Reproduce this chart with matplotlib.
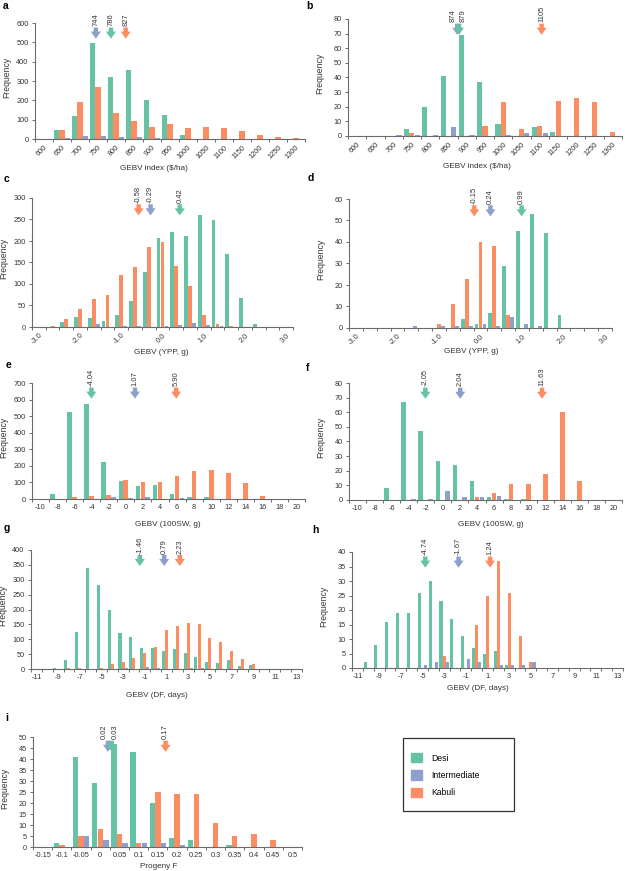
import numpy as np
import matplotlib
matplotlib.use('Agg')
import matplotlib.pyplot as plt
import matplotlib.transforms as mtransforms
from matplotlib.patches import Patch, Rectangle

plt.rcParams['font.family'] = ['Liberation Sans', 'DejaVu Sans']

W, H = 625, 871
DESI = '#66c2a5'
INTER = '#8da0cb'
KABULI = '#fc8d62'
AXC = '#6b6b6b'

# ---- data (frequency per bin) ----
# a / b : GEBV index ($/ha)
idx_labels = ['600', '650', '700', '750', '800', '850', '900', '950', '1000',
              '1050', '1100', '1150', '1200', '1250', '1300']
a_desi = [0, 45, 120, 495, 322, 357, 200, 125, 22, 0, 0, 0, 0, 0, 0]
a_kabuli = [0, 45, 193, 270, 135, 95, 62, 77, 55, 60, 57, 42, 22, 8, 5]
a_inter = [0, 3, 15, 15, 12, 10, 3, 0, 0, 0, 0, 0, 0, 0, 0]
b_desi = [0, 0, 0, 5, 20, 41, 69, 37, 8, 0, 6, 3, 0, 0, 0]
b_kabuli = [0, 0, 0, 2, 0, 0, 0, 7, 23, 5, 7, 24, 26, 23, 3]
b_inter = [0, 0, 1, 1, 1, 6, 1, 0, 1, 2, 2, 0, 0, 0, 0]

# c / d : GEBV (YPP, g), bins of 1/3 g, labelled every 1.0
ypp_labels = ['-3.0', '', '', '-2.0', '', '', '-1.0', '', '', '0.0', '', '',
              '1.0', '', '', '2.0', '', '', '3.0']
c_desi = [0, 0, 12, 24, 20, 13, 28, 60, 128, 207, 220, 212, 260, 248, 170, 68, 8, 0, 0]
c_kabuli = [0, 3, 18, 42, 65, 75, 122, 140, 185, 198, 143, 95, 28, 8, 3, 0, 0, 0, 0]
c_inter = [0, 0, 0, 0, 8, 0, 2, 3, 0, 2, 5, 10, 5, 3, 0, 0, 0, 0, 0]
d_desi = [0, 0, 0, 0, 0, 0, 0, 0, 4, 2, 7, 29, 45, 53, 44, 6, 0, 0, 0]
d_kabuli = [0, 0, 0, 0, 0, 0, 2, 11, 23, 40, 38, 6, 0, 0, 0, 0, 0, 0, 0]
d_inter = [0, 0, 0, 0, 1, 0, 1, 1, 1, 2, 1, 5, 2, 1, 0, 0, 0, 0, 0]

# e / f : GEBV (100SW, g)
sw_labels = ['-10', '-8', '-6', '-4', '-2', '0', '2', '4', '6', '8', '10',
             '12', '14', '16', '18', '20']
e_desi = [0, 30, 525, 573, 222, 108, 78, 82, 32, 15, 10, 0, 0, 0, 0, 0]
e_kabuli = [0, 0, 15, 18, 22, 113, 100, 105, 140, 167, 172, 158, 95, 18, 0, 0]
e_inter = [0, 0, 0, 0, 10, 5, 12, 0, 5, 0, 0, 0, 0, 0, 0, 0]
f_desi = [0, 0, 8, 67, 47, 27, 24, 13, 2, 1, 1, 0, 0, 0, 0, 0]
f_kabuli = [0, 0, 0, 0, 0, 0, 0, 2, 5, 11, 11, 18, 60, 13, 0, 0]
f_inter = [0, 0, 0, 1, 1, 6, 2, 2, 3, 0, 0, 0, 0, 0, 0, 0]

# g / h : GEBV (DF, days), bins of 1 day from -11 to 13
df_labels = ['-11', '', '-9', '', '-7', '', '-5', '', '-3', '', '-1', '', '1',
             '', '3', '', '5', '', '7', '', '9', '', '11', '', '13']
g_desi = [0, 0, 5, 30, 125, 338, 283, 198, 122, 108, 70, 72, 62, 68, 55, 42,
          22, 20, 30, 10, 12, 0, 0, 0, 0]
g_kabuli = [0, 0, 0, 5, 5, 0, 5, 18, 25, 38, 55, 75, 132, 145, 153, 150, 105,
            90, 62, 35, 18, 0, 0, 0, 0]
g_inter = [0, 0, 0, 0, 0, 0, 0, 0, 3, 0, 8, 5, 0, 0, 3, 3, 0, 0, 0, 0, 0, 0, 0, 0, 0]
h_desi = [0, 2, 8, 16, 19, 19, 26, 30, 23, 17, 11, 7, 5, 6, 1, 0, 0, 0, 0, 0,
          0, 0, 0, 0, 0]
h_kabuli = [0, 0, 0, 0, 0, 0, 0, 0, 4, 0, 0, 15, 25, 37, 26, 11, 2, 0, 0, 0,
            0, 0, 0, 0, 0]
h_inter = [0, 0, 0, 0, 0, 0, 1, 2, 2, 0, 3, 2, 0, 1, 1, 1, 2, 0, 0, 0, 0, 0, 0, 0, 0]

# i : progeny F
f_labels = ['-0.15', '-0.1', '-0.05', '0', '0.05', '0.1', '0.15', '0.2',
            '0.25', '0.3', '0.35', '0.4', '0.45', '0.5']
i_desi = [0, 2, 41, 29, 47, 43, 20, 4, 3, 0, 1, 0, 0, 0]
i_kabuli = [0, 1, 5, 8, 6, 2, 25, 24, 24, 11, 5, 6, 3, 0]
i_inter = [0, 0, 5, 3, 2, 2, 2, 1, 0, 0, 0, 0, 0, 0]

# group means shown by arrows: (value, text, group)
a_means = [(744, '744', 'inter'), (786, '786', 'desi'), (827, '827', 'kabuli')]
b_means = [(874, '874', 'inter'), (879, '879', 'desi'), (1105, '1105', 'kabuli')]
c_means = [(-0.58, '-0.58', 'kabuli'), (-0.29, '-0.29', 'inter'), (0.42, '0.42', 'desi')]
d_means = [(-0.15, '-0.15', 'kabuli'), (0.24, '0.24', 'inter'), (0.99, '0.99', 'desi')]
e_means = [(-4.04, '-4.04', 'desi'), (1.07, '1.07', 'inter'), (5.90, '5.90', 'kabuli')]
f_means = [(-2.05, '-2.05', 'desi'), (2.04, '2.04', 'inter'), (11.63, '11.63', 'kabuli')]
g_means = [(-1.46, '-1.46', 'desi'), (0.79, '0.79', 'inter'), (2.23, '2.23', 'kabuli')]
h_means = [(-4.74, '-4.74', 'desi'), (-1.67, '-1.67', 'inter'), (1.24, '1.24', 'kabuli')]
i_means = [(0.02, '0.02', 'inter'), (0.03, '0.03', 'desi'), (0.17, '0.17', 'kabuli')]

COLORS = {'desi': DESI, 'inter': INTER, 'kabuli': KABULI}

fig = plt.figure(figsize=(W / 100, H / 100), dpi=100)


def ftext(x, y, s, **kw):
    fig.text(x / W, 1 - y / H, s, **kw)


def panel(box, letter, letter_xy, labels, start, step, desi, kabuli, inter,
          means, ymax, ystep, xlabel, xlabel_x, xlabel_y, rot):
    x0, y0, x1, y1 = box
    ax = fig.add_axes([x0 / W, 1 - y1 / H, (x1 - x0) / W, (y1 - y0) / H])
    n = len(labels)
    x = np.arange(n)
    w = 0.28
    ax.bar(x - 0.29, desi, w, color=DESI, zorder=2)
    ax.bar(x, kabuli, w, color=KABULI, zorder=2)
    ax.bar(x + 0.29, inter, w, color=INTER, zorder=2)

    ax.set_xlim(-0.5, n - 0.5)
    ax.set_ylim(0, ymax)
    ax.set_yticks(np.arange(0, ymax + ystep / 2, ystep))
    ax.set_xticks(x)
    if rot:
        ax.set_xticklabels(labels, rotation=45, ha='right', va='top',
                           rotation_mode='anchor')
    else:
        ax.set_xticklabels(labels)
    ax.set_xticks(np.arange(n + 1) - 0.5, minor=True)
    ax.tick_params(axis='x', which='major', length=0, pad=3.5, labelsize=5.3,
                   colors='#333333')
    ax.tick_params(axis='x', which='minor', length=2.5, width=0.7, color=AXC,
                   direction='out')
    ax.tick_params(axis='y', length=2.5, width=0.7, color=AXC, pad=2,
                   labelsize=5.3, labelcolor='#333333')
    for s in ['top', 'right']:
        ax.spines[s].set_visible(False)
    for s in ['left', 'bottom']:
        ax.spines[s].set_color(AXC)
        ax.spines[s].set_linewidth(0.8)

    # arrows for group means
    tr = mtransforms.blended_transform_factory(ax.transData, ax.transAxes)
    pos = [(v - start) / step for v, _, _ in means]
    offs = [0.0] * len(means)
    for k in range(len(means) - 1):
        if abs(pos[k + 1] - pos[k]) < 0.4:
            offs[k] -= 2.7
            offs[k + 1] += 2.7
    for (v, txt, grp), p, o in zip(means, pos, offs):
        c = COLORS[grp]
        ax.annotate('', xy=(p, 0.865), xycoords=tr, xytext=(0, 8),
                    textcoords='offset points',
                    arrowprops=dict(arrowstyle='simple,head_width=0.85,'
                                    'head_length=0.6,tail_width=0.38',
                                    color=c, mutation_scale=8.5, lw=0,
                                    shrinkA=0, shrinkB=0),
                    annotation_clip=False)
        ax.annotate(txt, xy=(p, 0.865), xycoords=tr, xytext=(o, 9),
                    textcoords='offset points', rotation=90, ha='center',
                    va='bottom', fontsize=5.4, color='#333333',
                    annotation_clip=False)

    ftext(x0 - 28, (y0 + y1) / 2 - 4, 'Frequency', rotation=90, ha='center',
          va='center', fontsize=6.2, color='#333333')
    ftext(xlabel_x, xlabel_y, xlabel, ha='center', va='center', fontsize=5.9,
          color='#333333')
    ftext(letter_xy[0], letter_xy[1], letter, ha='center', va='center',
          fontsize=7.5, fontweight='bold')
    return ax


panel((35, 23, 305, 139), 'a', (6, 6), idx_labels, 600, 50,
      a_desi, a_kabuli, a_inter, a_means, 600, 100,
      'GEBV index ($/ha)', 154, 168, True)
panel((348, 19, 622, 136), 'b', (309, 6), idx_labels, 600, 50,
      b_desi, b_kabuli, b_inter, b_means, 80, 10,
      'GEBV index ($/ha)', 477, 166, True)
panel((32, 198, 293, 327), 'c', (7, 179), ypp_labels, -3.0, 1 / 3,
      c_desi, c_kabuli, c_inter, c_means, 300, 50,
      'GEBV (YPP, g)', 161, 352, True)
panel((349, 199, 612, 328), 'd', (311, 178), ypp_labels, -3.0, 1 / 3,
      d_desi, d_kabuli, d_inter, d_means, 60, 10,
      'GEBV (YPP, g)', 471, 351, True)
panel((32, 383, 305, 499), 'e', (8, 365), sw_labels, -10, 2,
      e_desi, e_kabuli, e_inter, e_means, 700, 100,
      'GEBV (100SW, g)', 168, 525, False)
panel((349, 383, 622, 500), 'f', (308, 368), sw_labels, -10, 2,
      f_desi, f_kabuli, f_inter, f_means, 80, 10,
      'GEBV (100SW, g)', 491, 525, False)
panel((31, 550, 302, 669), 'g', (7, 528), df_labels, -11, 1,
      g_desi, g_kabuli, g_inter, g_means, 400, 50,
      'GEBV (DF, days)', 157, 695, False)
panel((352, 552, 623, 668), 'h', (315, 530), df_labels, -11, 1,
      h_desi, h_kabuli, h_inter, h_means, 40, 5,
      'GEBV (DF, days)', 478, 689, False)
panel((33, 737, 302, 847), 'i', (7, 718), f_labels, -0.15, 0.05,
      i_desi, i_kabuli, i_inter, i_means, 50, 5,
      'Progeny F', 159, 866, False)

# legend
fig.patches.append(Rectangle((403 / W, 1 - 811 / H), 111 / W, 73 / H,
                             transform=fig.transFigure, fill=False,
                             edgecolor='#333333', lw=0.9))
handles = [Patch(color=DESI, label='Desi'),
           Patch(color=INTER, label='Intermediate'),
           Patch(color=KABULI, label='Kabuli')]
fig.legend(handles=handles, loc='upper left',
           bbox_to_anchor=(405 / W, 1 - 747 / H), frameon=False, fontsize=6.2,
           handlelength=1.3, handleheight=1.3, labelspacing=0.9,
           handletextpad=1.0, borderpad=0.2)

fig.savefig('out.png', dpi=100)
